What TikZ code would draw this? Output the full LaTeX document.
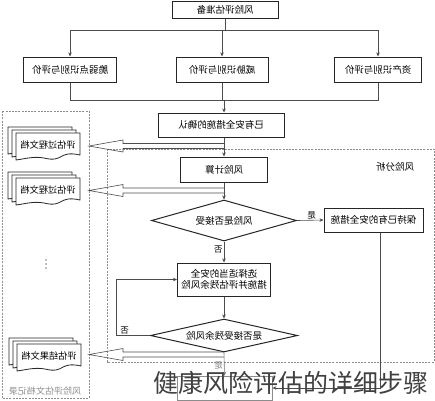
\documentclass[tikz,border=0pt]{standalone}
\usepackage{graphicx}
\usepackage{fontspec}
\newfontfamily\cjk{Noto Sans CJK SC}
\usetikzlibrary{arrows.meta,shapes.geometric}
\newcommand{\docstack}[4]{%
  \foreach \dd in {8,4,0}{%
    \draw[docline] ({#1-\dd},{#2-0.75*\dd}) -- ++(64,0) -- ++(0,22)
      .. controls ++(-22,-5) and ++(20,5) .. ++(-36,3)
      .. controls ++(-10,-2) and ++(8,-1) .. ({#1-\dd},{#2-0.75*\dd+27}) -- cycle;}
  \node[font=\cjk\fontsize{9.2}{10}\selectfont] (#3) at ({#1+32},{#2+12}) {\reflectbox{#4}};}
\newcommand{\hollowarr}[3]{%
  \draw[hol] ([yshift=2.5pt]#1) -- ([yshift=2.5pt]#2) -- ([yshift=6pt]#2) -- (#3) -- ([yshift=-6pt]#2) -- ([yshift=-2.5pt]#2) -- ([yshift=-2.5pt]#1);}
\begin{document}
\begin{tikzpicture}[x=1pt,y=-1pt,
  font=\cjk\fontsize{9.5}{11}\selectfont,
  box/.style={draw=black!85, line width=1pt, fill=white, inner sep=0pt, align=center},
  dia/.style={diamond, draw=black!85, line width=1pt, fill=white, inner sep=0pt},
  ln/.style={draw=black!70, line width=0.6pt},
  arr/.style={ln, -{Stealth[length=4pt,width=3.5pt]}},
  dbox/.style={draw=black!45, dash pattern=on 2pt off 1.2pt, line width=0.8pt},
  docline/.style={draw=black!85, line width=0.8pt, fill=white},
  hol/.style={draw=black!70, line width=0.6pt},
  lab/.style={inner sep=1pt, font=\cjk\fontsize{8.5}{9}\selectfont}]
\useasboundingbox (0,0) rectangle (435,400);

% dashed frames
\draw[dbox] (2,111) rectangle (89,398);
\draw[dbox] (107,149) rectangle (434,362);
\node[text=black!45, font=\cjk\fontsize{9}{10}\selectfont] (docrec) at (45,391) {\reflectbox{风险评估文档记录}};
\node (ana) at (395,167) {\reflectbox{风险分析}};
\foreach \yy in {260,264,268} \fill[black!50] (46,\yy) circle (0.8pt);

% top part
\node[box, minimum width=106pt, minimum height=17pt] (prep) at (225,9.5) {\reflectbox{风险评估准备}};
\node[box, minimum width=93pt, minimum height=25pt] (n1) at (70,69.5) {\reflectbox{脆弱点识别与评价}};
\node[box, minimum width=92pt, minimum height=25pt] (n2) at (222,69.5) {\reflectbox{威胁识别与评价}};
\node[box, minimum width=87pt, minimum height=25pt] (n3) at (378,69.5) {\reflectbox{资产识别与评价}};
\node[box, minimum width=126pt, minimum height=24pt] (conf) at (221,125) {\reflectbox{已有安全措施的确认}};

\coordinate (t0) at (225,30);
\coordinate (b0) at (224,100);
\draw[ln] (prep.south) -- (t0);
\draw[ln] (n1.north |- t0) -- (n3.north |- t0);
\draw[arr] (n1.north |- t0) -- (n1.north);
\draw[arr] (n2.north |- t0) -- (n2.north);
\draw[arr] (n3.north |- t0) -- (n3.north);
\draw[ln] (n1.south) -- (n1.south |- b0) -- (n3.south |- b0) -- (n3.south);
\draw[ln] (n2.south) -- (n2.south |- b0);
\draw[arr] (b0) -- (b0 |- conf.north);

% analysis part
\node[box, minimum width=87pt, minimum height=25pt] (calc) at (224,169.5) {\reflectbox{风险计算}};
\node[dia, shape aspect=3.5, minimum width=145pt, minimum height=41pt] (d1) at (224,220.5) {\reflectbox{风险是否接受}};
\node[box, minimum width=99pt, minimum height=24pt] (keep) at (373.5,220) {\reflectbox{保持已有的安全措施}};
\node[box, minimum width=93pt, minimum height=33pt] (sel) at (224,279.5) {\reflectbox{选择适当的安全}\\\reflectbox{措施并评估残余风险}};
\node[dia, shape aspect=4.45, minimum width=147pt, minimum height=33pt] (d2) at (224,335.5) {\reflectbox{是否接受残余风险}};
\node[draw=black!45, line width=0.8pt, minimum width=95pt, minimum height=24pt, inner sep=0pt] (last) at (224.5,388) {};

\draw[arr] (conf.south -| calc.north) -- (calc.north);
\draw[arr] (calc.south) -- (d1.north);
\draw[arr] (d1.east) -- node[lab, above, pos=0.55] {\reflectbox{是}} (keep.west);
\draw[arr] (d1.south) -- node[lab, left, pos=0.4] {\reflectbox{否}} (sel.north);
\draw[arr] (sel.south) -- (d2.north);
\coordinate (lp) at (116,335.5);
\draw[arr] (d2.west) -- node[lab, above, pos=0.75] {\reflectbox{否}} (lp) -- (lp |- sel.west) -- (sel.west);
\draw[arr, draw=black!55] (d2.south) -- node[lab, left, pos=0.55, text=black!50] {\reflectbox{是}} (last.north);
\coordinate (kc) at (380,388);
\draw[arr] (keep.south -| kc) -- (kc) -- (last.east);

% documents
\docstack{16}{133}{doc1}{评估过程文档}
\docstack{16}{178}{doc2}{评估过程文档}
\docstack{17}{344}{doc3}{评估结果文档}

\coordinate (m1) at (224,146);  \coordinate (h1) at (123,146);  \coordinate (p1) at (89,146);
\coordinate (m2) at (224,190.5);\coordinate (h2) at (123,190.5);\coordinate (p2) at (89,190.5);
\coordinate (m3) at (224,354.5);\coordinate (h3) at (123,354.5);\coordinate (p3) at (89,354.5);
\hollowarr{m1}{h1}{p1}
\hollowarr{m2}{h2}{p2}
\hollowarr{m3}{h3}{p3}

% caption overlay
\node[text=black!75, font=\cjk\fontsize{25}{25}\selectfont, inner sep=0pt] (cap) at (291,383) {健康风险评估的详细步骤};
\end{tikzpicture}
\end{document}
